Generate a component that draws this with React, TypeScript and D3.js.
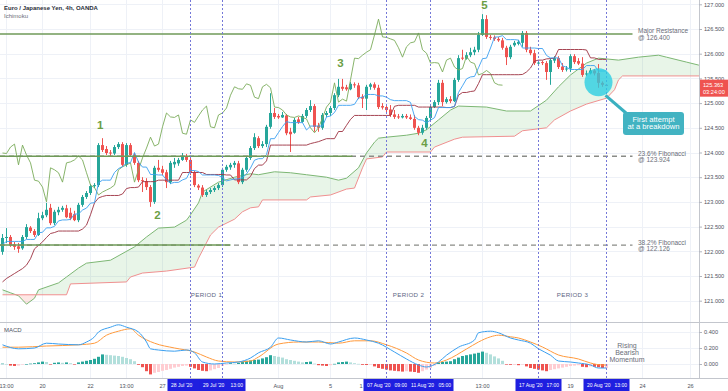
import React, { useEffect, useRef } from "react";
import * as d3 from "d3";

// EUR/JPY 4h candles, [open, high, low, close]
const candles = [
  [121.99, 122.35, 121.93, 122.27], [122.27, 122.47, 122.17, 122.29], [122.29, 122.33, 122.09, 122.13], [122.14, 122.19, 122.03, 122.09],
  [122.1, 122.17, 121.97, 122.05], [122.06, 122.33, 122.03, 122.29], [122.29, 122.55, 122.25, 122.49], [122.48, 122.51, 122.37, 122.41],
  [122.41, 122.45, 122.29, 122.33], [122.33, 122.78, 122.31, 122.67], [122.67, 122.8, 122.63, 122.73], [122.73, 122.98, 122.69, 122.84],
  [122.88, 122.96, 122.53, 122.57], [122.57, 122.84, 122.53, 122.8], [122.79, 122.9, 122.73, 122.84], [122.84, 122.92, 122.8, 122.88],
  [122.87, 122.94, 122.67, 122.69], [122.78, 122.88, 122.63, 122.67], [122.75, 122.82, 122.61, 122.63], [122.63, 122.98, 122.59, 122.94],
  [122.94, 123.14, 122.9, 123.1], [123.1, 123.22, 123.06, 123.18], [123.18, 123.36, 123.14, 123.32], [123.32, 123.38, 123.28, 123.34],
  [123.34, 124.19, 123.3, 124.15], [124.15, 124.29, 124.01, 124.05], [124.07, 124.13, 123.95, 123.99], [124.0, 124.05, 123.93, 123.98],
  [123.98, 124.15, 123.95, 124.11], [124.11, 124.21, 124.07, 124.17], [124.17, 124.21, 123.71, 123.75], [123.75, 124.19, 123.71, 124.15],
  [124.15, 124.19, 123.91, 123.95], [123.95, 123.99, 123.75, 123.79], [123.79, 123.83, 123.4, 123.44], [123.44, 123.5, 123.2, 123.42],
  [123.42, 123.48, 123.24, 123.3], [123.3, 123.34, 122.9, 123.0], [123.0, 123.73, 122.96, 123.69], [123.69, 123.85, 123.61, 123.65],
  [123.66, 123.73, 123.54, 123.59], [123.6, 123.65, 123.28, 123.4], [123.4, 123.83, 123.36, 123.79], [123.76, 123.89, 123.69, 123.81],
  [123.78, 123.89, 123.73, 123.85], [123.85, 123.99, 123.83, 123.93], [123.93, 123.97, 123.81, 123.85], [123.85, 123.89, 123.54, 123.59],
  [123.59, 123.63, 123.3, 123.34], [123.33, 123.36, 123.24, 123.29], [123.29, 123.34, 123.1, 123.14], [123.14, 123.24, 123.1, 123.2],
  [123.2, 123.28, 123.16, 123.24], [123.24, 123.32, 123.2, 123.28], [123.28, 123.38, 123.24, 123.34], [123.34, 123.69, 123.3, 123.65],
  [123.65, 123.75, 123.61, 123.71], [123.7, 123.79, 123.65, 123.75], [123.75, 123.83, 123.69, 123.79], [123.78, 123.83, 123.36, 123.4],
  [123.4, 123.69, 123.36, 123.65], [123.65, 123.93, 123.61, 123.89], [123.89, 124.13, 123.85, 124.09], [124.09, 124.39, 124.05, 124.31],
  [124.29, 124.33, 124.09, 124.13], [124.13, 124.23, 124.09, 124.17], [124.17, 124.56, 124.11, 124.52], [124.52, 125.2, 124.48, 124.8],
  [124.8, 124.9, 124.68, 124.72], [124.74, 124.78, 124.68, 124.71], [124.71, 124.82, 124.7, 124.76], [124.75, 124.78, 124.35, 124.39],
  [124.42, 124.5, 124.01, 124.37], [124.4, 124.7, 124.38, 124.66], [124.67, 124.72, 124.58, 124.61], [124.62, 124.78, 124.6, 124.74],
  [124.74, 124.9, 124.7, 124.86], [124.86, 125.06, 124.82, 124.94], [124.94, 124.98, 124.42, 124.52], [124.54, 124.6, 124.42, 124.5],
  [124.5, 124.8, 124.46, 124.76], [124.76, 124.84, 124.72, 124.8], [124.8, 124.94, 124.74, 124.9], [124.9, 125.2, 124.86, 125.16],
  [125.16, 125.49, 125.12, 125.33], [125.33, 125.49, 125.25, 125.29], [125.32, 125.37, 125.25, 125.28], [125.28, 125.43, 125.26, 125.39],
  [125.38, 125.42, 125.31, 125.36], [125.36, 125.41, 125.08, 125.12], [125.13, 125.18, 124.9, 125.09], [125.09, 125.37, 124.86, 125.33],
  [125.33, 125.41, 125.27, 125.38], [125.38, 125.42, 125.27, 125.31], [125.31, 125.37, 124.88, 124.92], [124.94, 125.0, 124.87, 124.91],
  [124.92, 124.98, 124.82, 124.86], [124.87, 124.96, 124.72, 124.76], [124.77, 124.86, 124.68, 124.72], [124.73, 124.78, 124.68, 124.71],
  [124.71, 124.78, 124.69, 124.74], [124.74, 124.78, 124.68, 124.71], [124.71, 124.77, 124.66, 124.68], [124.68, 124.76, 124.46, 124.5],
  [124.5, 124.54, 124.35, 124.4], [124.4, 124.56, 124.36, 124.5], [124.5, 124.74, 124.46, 124.7], [124.7, 124.96, 124.62, 124.92],
  [124.92, 125.06, 124.9, 125.02], [125.02, 125.47, 124.96, 125.41], [125.41, 125.47, 124.94, 125.02], [125.02, 125.12, 124.99, 125.08],
  [125.08, 125.14, 125.0, 125.04], [125.04, 125.51, 125.02, 125.47], [125.47, 125.97, 125.43, 125.91], [125.92, 126.08, 125.87, 125.9],
  [125.9, 126.03, 125.88, 125.97], [125.97, 126.12, 125.93, 126.03], [126.03, 126.14, 125.97, 126.08], [126.08, 126.44, 126.03, 126.38],
  [126.38, 126.8, 126.36, 126.7], [126.7, 126.78, 126.3, 126.34], [126.34, 126.38, 126.28, 126.33], [126.33, 126.37, 126.26, 126.3],
  [126.3, 126.34, 126.24, 126.27], [126.27, 126.32, 126.08, 126.12], [126.12, 126.16, 125.77, 125.93], [125.93, 126.18, 125.89, 126.14],
  [126.17, 126.26, 126.14, 126.22], [126.2, 126.28, 126.17, 126.24], [126.22, 126.46, 126.14, 126.42], [126.42, 126.46, 126.03, 126.08],
  [126.08, 126.14, 125.97, 126.01], [126.01, 126.08, 125.77, 125.81], [125.81, 125.87, 125.75, 125.82], [125.83, 125.86, 125.77, 125.81],
  [125.81, 125.85, 125.47, 125.63], [125.63, 125.91, 125.37, 125.87], [125.86, 125.95, 125.81, 125.91], [125.91, 125.95, 125.69, 125.73],
  [125.74, 125.81, 125.63, 125.67], [125.68, 125.75, 125.64, 125.7], [125.7, 125.99, 125.63, 125.95], [125.95, 125.99, 125.79, 125.83],
  [125.85, 125.91, 125.77, 125.8], [125.8, 125.93, 125.53, 125.57], [125.58, 125.66, 125.55, 125.6], [125.6, 125.71, 125.58, 125.66],
  [125.66, 125.69, 125.56, 125.6], [125.61, 125.79, 125.31, 125.41], [125.41, 125.44, 125.33, 125.37], [125.37, 125.38, 125.35, 125.363],
];

// base line before a full 26 bar window is on screen
const kijunLead = [
  121.38, 121.45, 121.5, 121.55, 121.6, 121.65, 121.72, 121.85, 122.05, 122.12, 122.19, 122.28, 122.36,
  122.38, 122.41, 122.41, 122.41, 122.41, 122.41, 122.41, 122.45, 122.53, 122.74, 122.98, 123.08,
];

// leading spans [bar, price], already shifted forward
const spanA = [
  [0, 121.22], [2, 121.16], [4, 121.1], [6, 120.93], [8, 121.05], [9, 121.22], [14, 121.36], [16, 121.48],
  [19, 121.66], [21, 121.76], [27, 121.82], [33, 122.09], [36, 122.29], [39, 122.47], [43, 122.49], [46, 122.63],
  [47, 122.74], [49, 122.98], [50, 123.2], [54, 123.4], [58, 123.5], [62, 123.57], [64, 123.55], [68, 123.61],
  [72, 123.59], [76, 123.55], [81, 123.5], [84, 123.44], [86, 123.48], [89, 123.69], [91, 123.99], [93, 124.21],
  [94, 124.29], [96, 124.31], [101, 124.35], [104, 124.39], [106, 124.46], [109, 124.66], [112, 124.86], [114, 124.94],
  [121, 124.92], [126, 124.84], [132, 124.84], [136, 125.06], [139, 125.33], [142, 125.57], [146, 125.81], [149, 125.91],
  [154, 125.87], [159, 125.93], [164, 125.97], [166, 125.93], [171, 125.83], [174, 125.77], [178, 125.75],
];
const spanB = [
  [0, 121.12], [16, 121.12], [17, 121.34], [31, 121.38], [32, 121.48], [35, 121.56], [41, 121.6], [48, 121.68],
  [49, 121.86], [52, 122.33], [54, 122.49], [58, 122.65], [60, 122.8], [62, 122.88], [64, 122.9], [65, 123.04],
  [76, 123.04], [77, 123.1], [82, 123.14], [86, 123.26], [88, 123.28], [90, 123.69], [91, 123.87], [95, 123.91],
  [96, 124.01], [107, 124.01], [108, 124.11], [113, 124.27], [115, 124.31], [128, 124.33], [130, 124.44], [136, 124.5],
  [138, 124.66], [142, 124.84], [146, 124.98], [151, 125.1], [153, 125.27], [154, 125.47], [155, 125.55], [178, 125.55],
];

// MACD pane
const macdLine = [
  [0, 0.24], [4, 0.19], [8, 0.2], [11, 0.26], [14, 0.25], [19, 0.24], [21, 0.275], [23, 0.34], [24, 0.4], [27, 0.46],
  [29, 0.49], [31, 0.46], [34, 0.4], [36, 0.275], [37, 0.19], [39, 0.175], [43, 0.16], [46, 0.175], [48, 0.14], [50, 0.025],
  [53, 0], [56, 0.0125], [59, 0.025], [62, 0.075], [64, 0.14], [67, 0.21], [69, 0.325], [72, 0.3], [76, 0.275], [79, 0.29],
  [82, 0.25], [84, 0.275], [88, 0.325], [91, 0.3], [94, 0.26], [98, 0.15], [101, 0.0625], [104, -0.0125], [106, -0.0375],
  [109, 0.025], [111, 0.11], [114, 0.21], [118, 0.3], [119, 0.39], [122, 0.41], [124, 0.39], [127, 0.325], [129, 0.3],
  [132, 0.26], [134, 0.19], [137, 0.11], [139, 0.0375], [142, 0.025], [144, 0.0125], [147, -0.0125], [149, -0.05], [151, -0.05],
];
const signalLine = [
  [0, 0.21], [4, 0.21], [11, 0.225], [19, 0.24], [23, 0.26], [26, 0.36], [29, 0.41], [32, 0.44], [34, 0.36], [38, 0.26],
  [43, 0.2], [48, 0.15], [51, 0.0875], [54, 0.0375], [58, 0.025], [62, 0.0375], [64, 0.0875], [69, 0.25], [74, 0.275],
  [79, 0.275], [84, 0.26], [88, 0.29], [92, 0.29], [96, 0.24], [101, 0.1375], [104, 0.05], [108, 0.0125], [111, 0.05],
  [116, 0.1875], [119, 0.275], [122, 0.34], [124, 0.36], [127, 0.34], [129, 0.325], [132, 0.275], [135, 0.2125],
  [139, 0.1125], [144, 0.0625], [147, 0.0125], [150, -0.0125], [151, -0.0125],
];
const macdHist = [
  0.005, 0, -0.02, -0.025, -0.02, -0.005, 0, 0.005, 0.01, 0.02,
  0.03, 0.025, -0.005, 0.015, 0.02, 0.015, 0.02, 0.01, -0.005, 0.02,
  0.03, 0.04, 0.05, 0.065, 0.09, 0.12, 0.115, 0.11, 0.105, 0.1,
  0.09, 0.075, 0.06, 0.035, -0.01, -0.04, -0.09, -0.13, -0.11, -0.1,
  -0.085, -0.075, -0.06, -0.045, -0.035, -0.025, -0.02, -0.035, -0.055, -0.075,
  -0.085, -0.09, -0.08, -0.065, -0.05, -0.025, -0.005, 0.01, 0.005, 0.015,
  0.03, 0.04, 0.045, 0.05, 0.055, 0.07, 0.085, 0.11, 0.1, 0.09,
  0.08, 0.06, 0.05, 0.04, 0.03, 0.02, 0.025, 0.03, 0.005, -0.015,
  -0.02, -0.025, -0.015, 0.002, 0.02, 0.025, 0.03, 0.02, 0.01, 0.002,
  -0.01, -0.012, -0.005, -0.03, -0.05, -0.06, -0.07, -0.08, -0.085, -0.09,
  -0.095, -0.09, -0.095, -0.1, -0.11, -0.09, -0.07, -0.05, -0.02, 0.02,
  0.025, 0.03, 0.035, 0.06, 0.08, 0.1, 0.11, 0.12, 0.13, 0.14,
  0.155, 0.14, 0.12, 0.095, 0.07, 0.04, -0.005, -0.01, -0.01, -0.015,
  -0.005, -0.03, -0.05, -0.06, -0.07, -0.08, -0.09, -0.075, -0.065, -0.055,
  -0.045, -0.035, -0.025, -0.02, -0.015, -0.035, -0.04, -0.03, -0.035, -0.04,
  -0.05, -0.05,
];

const priceTicks = [121, 121.5, 122, 122.5, 123, 123.5, 124, 124.5, 125, 125.5, 126, 126.5, 127];
const macdTicks = [0, 0.2, 0.4];
const timeTicks = [
  [1, "13:00"], [10, "20"], [22, "22"], [31, "13:00"], [40, "27"], [69, "Aug"],
  [82, "5"], [91, "13:00"], [120, "13:00"], [142, "19"], [160, "24"], [172, "26"],
];

const periods = [
  { name: "PERIOD 1", from: 47, to: 55, fromLabel: ["28 Jul '20", "05:00"], toLabel: ["29 Jul '20", "13:00"] },
  { name: "PERIOD 2", from: 96, to: 107, fromLabel: ["07 Aug '20", "09:00"], toLabel: ["11 Aug '20", "05:00"] },
  { name: "PERIOD 3", from: 134, to: 151, fromLabel: ["17 Aug '20", "17:00"], toLabel: ["20 Aug '20", "13:00"] },
];

const levels = [
  { price: 126.4, solidTo: 157.5, dashTo: 0, text: ["Major Resistance", "@ 126.400"] },
  { price: 123.924, solidTo: 87.5, dashTo: 157.5, text: ["23.6% Fibonacci", "@ 123.924"] },
  { price: 122.126, solidTo: 57, dashTo: 157.5, text: ["38.2% Fibonacci", "@ 122.126"] },
];

const waves = [["1", 24.4, 124.47], ["2", 38.75, 122.66], ["3", 84.5, 125.73], ["4", 105.5, 124.11], ["5", 120.5, 126.9]];

const lastPrice = 125.363;
const countdown = "03:24:00";

const W = 728;
const H = 391;
const plotRight = 699;
const mainBottom = 322;
const macdBottom = 378;
const boxHalf = 23;
const font = "'Liberation Sans', Arial, sans-serif";

// cut a label where something else covers it, like the axis does
const fitText = (sel, left, limit) => {
  const node = sel.node();
  sel.attr("text-anchor", "start").attr("x", left);
  let t = sel.text();
  while (t.length && left + node.getComputedTextLength() > limit) {
    t = t.slice(0, -1);
    sel.text(t);
  }
  if (!t.length) sel.remove();
};

const App = () => {
  const svgRef = useRef(null);

  useEffect(() => {
    const svg = d3.select(svgRef.current);
    svg.selectAll("*").remove();

    const x = d3.scaleLinear().domain([0, 1]).range([2.5, 6.5]);
    const y = d3.scaleLinear().domain([121, 127]).range([300.7, 4.3]);
    const ym = d3.scaleLinear().domain([0, 0.4]).range([364, 332]);

    const highs = candles.map((d) => d[1]);
    const lows = candles.map((d) => d[2]);
    const closes = candles.map((d) => d[3]);
    const mid = (i, n) => {
      const s = Math.max(0, i - n + 1);
      return (d3.max(highs.slice(s, i + 1)) + d3.min(lows.slice(s, i + 1))) / 2;
    };
    const tenkan = candles.map((_, i) => [i, mid(i, 9)]);
    const kijun = candles.map((_, i) => [i, i < kijunLead.length ? kijunLead[i] : mid(i, 26)]);
    const chikou = closes.slice(26).map((c, i) => [i, c]);

    svg.append("rect").attr("width", W).attr("height", H).attr("fill", "#fff");

    const defs = svg.append("defs");
    defs.append("clipPath").attr("id", "clip-main")
      .append("rect").attr("width", plotRight).attr("height", mainBottom);
    defs.append("clipPath").attr("id", "clip-macd")
      .append("rect").attr("y", mainBottom).attr("width", plotRight).attr("height", macdBottom - mainBottom);

    // grid
    const grid = svg.append("g").attr("stroke", "#eef1f7").attr("stroke-width", 1);
    grid.selectAll(".gh").data(priceTicks).join("line")
      .attr("x1", 0).attr("x2", plotRight)
      .attr("y1", (d) => Math.round(y(d)) + 0.5).attr("y2", (d) => Math.round(y(d)) + 0.5);
    grid.selectAll(".gm").data(macdTicks).join("line")
      .attr("x1", 0).attr("x2", plotRight)
      .attr("y1", (d) => Math.round(ym(d)) + 0.5).attr("y2", (d) => Math.round(ym(d)) + 0.5);
    grid.selectAll(".gv").data(timeTicks).join("line")
      .attr("x1", (d) => x(d[0])).attr("x2", (d) => x(d[0]))
      .attr("y1", 0).attr("y2", macdBottom);

    const main = svg.append("g").attr("clip-path", "url(#clip-main)");

    // cloud
    const below = d3.area().x((d) => x(d[0])).y0(mainBottom).y1((d) => y(d[1]));
    const above = d3.area().x((d) => x(d[0])).y0(0).y1((d) => y(d[1]));
    defs.append("clipPath").attr("id", "below-a").append("path").attr("d", below(spanA));
    defs.append("clipPath").attr("id", "below-b").append("path").attr("d", below(spanB));
    main.append("g").attr("clip-path", "url(#below-a)")
      .append("path").attr("d", above(spanB)).attr("fill", "rgba(76,175,80,0.13)");
    main.append("g").attr("clip-path", "url(#below-b)")
      .append("path").attr("d", above(spanA)).attr("fill", "rgba(244,67,54,0.13)");

    const line = d3.line().x((d) => x(d[0])).y((d) => y(d[1]));
    main.append("path").attr("d", line(spanA)).attr("fill", "none").attr("stroke", "#7db774").attr("stroke-width", 1);
    main.append("path").attr("d", line(spanB)).attr("fill", "none").attr("stroke", "#f09090").attr("stroke-width", 1);

    // candles
    const up = "#26a69a";
    const down = "#ef5350";
    const cg = main.append("g");
    cg.selectAll("line").data(candles).join("line")
      .attr("x1", (d, i) => x(i)).attr("x2", (d, i) => x(i))
      .attr("y1", (d) => y(d[1])).attr("y2", (d) => y(d[2]))
      .attr("stroke", (d) => (d[3] >= d[0] ? up : down)).attr("stroke-width", 1);
    cg.selectAll("rect").data(candles).join("rect")
      .attr("x", (d, i) => x(i) - 1.5).attr("width", 3)
      .attr("y", (d) => y(Math.max(d[0], d[3])))
      .attr("height", (d) => Math.max(1, Math.abs(y(d[0]) - y(d[3]))))
      .attr("fill", (d) => (d[3] >= d[0] ? up : down));

    main.append("path").attr("d", line(chikou)).attr("fill", "none").attr("stroke", "#7aab5a").attr("stroke-width", 0.9);
    main.append("path").attr("d", line(kijun)).attr("fill", "none").attr("stroke", "#9c3040").attr("stroke-width", 0.9);
    main.append("path").attr("d", line(tenkan)).attr("fill", "none").attr("stroke", "#3a9ff0").attr("stroke-width", 0.9);

    // MACD pane
    const mg = svg.append("g").attr("clip-path", "url(#clip-macd)");
    mg.selectAll("rect").data(macdHist).join("rect")
      .attr("x", (d, i) => x(i) - 1.5).attr("width", 3)
      .attr("y", (d) => ym(Math.max(0, d)))
      .attr("height", (d) => Math.max(0.6, Math.abs(ym(d) - ym(0))))
      .attr("fill", (d, i) => {
        const prev = i > 0 ? macdHist[i - 1] : 0;
        if (d >= 0) return d >= prev ? "#26a69a" : "#b2dfdb";
        return d < prev ? "#ef5350" : "#ffcdd2";
      });
    const mline = d3.line().x((d) => x(d[0])).y((d) => ym(d[1])).curve(d3.curveMonotoneX);
    mg.append("path").attr("d", mline(signalLine)).attr("fill", "none").attr("stroke", "#ff9a3c").attr("stroke-width", 1);
    mg.append("path").attr("d", mline(macdLine)).attr("fill", "none").attr("stroke", "#3a9ff0").attr("stroke-width", 1);

    // horizontal levels
    const lv = svg.append("g");
    levels.forEach((l) => {
      const yy = y(l.price);
      if (l.dashTo) {
        lv.append("line").attr("x1", 0).attr("x2", x(l.dashTo)).attr("y1", yy).attr("y2", yy)
          .attr("stroke", "#8a8c87").attr("stroke-width", 1.3).attr("stroke-dasharray", "5,4");
      }
      lv.append("line").attr("x1", 0).attr("x2", x(l.solidTo)).attr("y1", yy).attr("y2", yy)
        .attr("stroke", "#6f9a58").attr("stroke-width", 1.5);
      l.text.forEach((t, k) => {
        lv.append("text").attr("x", 638).attr("y", yy - 0.5 + k * 6.6)
          .attr("font-family", font).attr("font-size", 6.5).attr("fill", "#6a6d78").text(t);
      });
    });

    // period markers
    const pg = svg.append("g");
    periods.forEach((p) => {
      [p.from, p.to].forEach((b) => {
        pg.append("line").attr("x1", x(b)).attr("x2", x(b)).attr("y1", 0).attr("y2", macdBottom)
          .attr("stroke", "#7478d8").attr("stroke-width", 1).attr("stroke-dasharray", "2,2");
      });
      pg.append("text").attr("x", (x(p.from) + x(p.to)) / 2).attr("y", 297)
        .attr("text-anchor", "middle").attr("font-family", font).attr("font-size", 6.2)
        .attr("letter-spacing", 0.3).attr("fill", "#5d6784").text(p.name);
    });

    // waves
    svg.append("g").selectAll("text").data(waves).join("text")
      .attr("x", (d) => x(d[1])).attr("y", (d) => y(d[2]))
      .attr("text-anchor", "middle").attr("font-family", font).attr("font-size", 11.5)
      .attr("font-weight", "bold").attr("fill", "#6b9e45").text((d) => d[0]);

    // callout
    const cx = x(149);
    const cy = y(125.42);
    svg.append("line").attr("x1", cx + 7).attr("y1", cy + 13).attr("x2", 626).attr("y2", 113)
      .attr("stroke", "#3ab0c0").attr("stroke-width", 3);
    svg.append("circle").attr("cx", cx).attr("cy", cy).attr("r", 14)
      .attr("fill", "rgba(40,205,225,0.78)");
    svg.append("rect").attr("x", 623).attr("y", 112).attr("width", 61).attr("height", 23).attr("rx", 3)
      .attr("fill", "#42b3c2");
    ["First attempt", "at a breakdown"].forEach((t, k) => {
      svg.append("text").attr("x", 653.5).attr("y", 121.5 + k * 7.5).attr("text-anchor", "middle")
        .attr("font-family", font).attr("font-size", 7.6).attr("fill", "#fff").text(t);
    });
    ["Rising", "Bearish", "Momentum"].forEach((t, k) => {
      svg.append("text").attr("x", 627).attr("y", 348 + k * 7).attr("text-anchor", "middle")
        .attr("font-family", font).attr("font-size", 7).attr("fill", "#6a6d78").text(t);
    });

    // separators and price axis
    const sep = svg.append("g").attr("stroke", "#c3c6cd").attr("stroke-width", 1);
    sep.append("line").attr("x1", 0).attr("x2", W).attr("y1", mainBottom + 0.5).attr("y2", mainBottom + 0.5);
    sep.append("line").attr("x1", 0).attr("x2", W).attr("y1", macdBottom + 0.5).attr("y2", macdBottom + 0.5);
    sep.append("line").attr("x1", plotRight + 0.5).attr("x2", plotRight + 0.5).attr("y1", 0).attr("y2", macdBottom);

    const styleAxis = (g) => {
      g.select(".domain").remove();
      g.selectAll("line").attr("stroke", "#b2b5be");
      g.selectAll("text").attr("font-family", font).attr("font-size", 5.6).attr("fill", "#50535e").attr("x", 5);
    };
    svg.append("g").attr("transform", `translate(${plotRight},0)`)
      .call(d3.axisRight(y).tickValues(priceTicks).tickFormat(d3.format(".3f")).tickSize(3))
      .call(styleAxis);
    svg.append("g").attr("transform", `translate(${plotRight},0)`)
      .call(d3.axisRight(ym).tickValues(macdTicks).tickFormat(d3.format(".3f")).tickSize(3))
      .call(styleAxis);

    // last price tag
    const py = y(lastPrice);
    svg.append("rect").attr("x", plotRight + 1).attr("y", py - 5.5).attr("width", W - plotRight - 1).attr("height", 17)
      .attr("fill", "#ef5350");
    svg.append("text").attr("x", 703).attr("y", py + 2).attr("font-family", font).attr("font-size", 5.6)
      .attr("fill", "#fff").text(lastPrice.toFixed(3));
    svg.append("text").attr("x", 703).attr("y", py + 9).attr("font-family", font).attr("font-size", 5.6)
      .attr("fill", "#fff").text(countdown);

    // time axis; the blue date boxes cover part of it
    const boxes = periods.flatMap((p) => [p.from, p.to]).map((b) => [x(b) - boxHalf, x(b) + boxHalf]);
    const tickG = svg.append("g");
    timeTicks.forEach(([b, lab]) => {
      const t = tickG.append("text").attr("y", 387.5).attr("font-family", font).attr("font-size", 5.6)
        .attr("fill", "#50535e").text(lab);
      const w = t.node().getComputedTextLength();
      const left = x(b) - w / 2;
      const cover = boxes.find(([a, c]) => c > left && a < left + w);
      if (!cover) t.attr("x", left);
      else if (cover[0] <= left) t.remove();
      else fitText(t, left, cover[0]);
    });

    const tg = svg.append("g");
    periods.forEach((p) => {
      [[p.from, p.fromLabel], [p.to, p.toLabel]].forEach(([b, lab], k) => {
        const bx = x(b);
        const limit = k === 0 ? Math.min(bx + boxHalf, x(p.to) - boxHalf) : bx + boxHalf;
        tg.append("rect").attr("x", bx - boxHalf).attr("y", macdBottom + 1).attr("width", boxHalf * 2).attr("height", 12)
          .attr("fill", "#1f1fe0");
        tg.append("text").attr("x", bx - 19.5).attr("y", 387.3).attr("font-family", font).attr("font-size", 5)
          .attr("fill", "#fff").text(lab[0]);
        const tt = tg.append("text").attr("y", 387.3).attr("font-family", font).attr("font-size", 5)
          .attr("fill", "#fff").text(lab[1]);
        const w = tt.node().getComputedTextLength();
        fitText(tt, bx + 20.5 - w, limit);
      });
    });

    // titles
    svg.append("text").attr("x", 4).attr("y", 10).attr("font-family", font).attr("font-size", 6)
      .attr("font-weight", "bold").attr("fill", "#2a2e39").text("Euro / Japanese Yen, 4h, OANDA");
    svg.append("text").attr("x", 4).attr("y", 18).attr("font-family", font).attr("font-size", 6)
      .attr("fill", "#6a6d78").text("Ichimoku");
    svg.append("text").attr("x", 4).attr("y", 332).attr("font-family", font).attr("font-size", 6)
      .attr("fill", "#50535e").text("MACD");
  }, []);

  return (
    <svg
      ref={svgRef}
      width={W}
      height={H}
      style={{ position: "absolute", left: 0, top: 0, display: "block" }}
    />
  );
};

export default App;
